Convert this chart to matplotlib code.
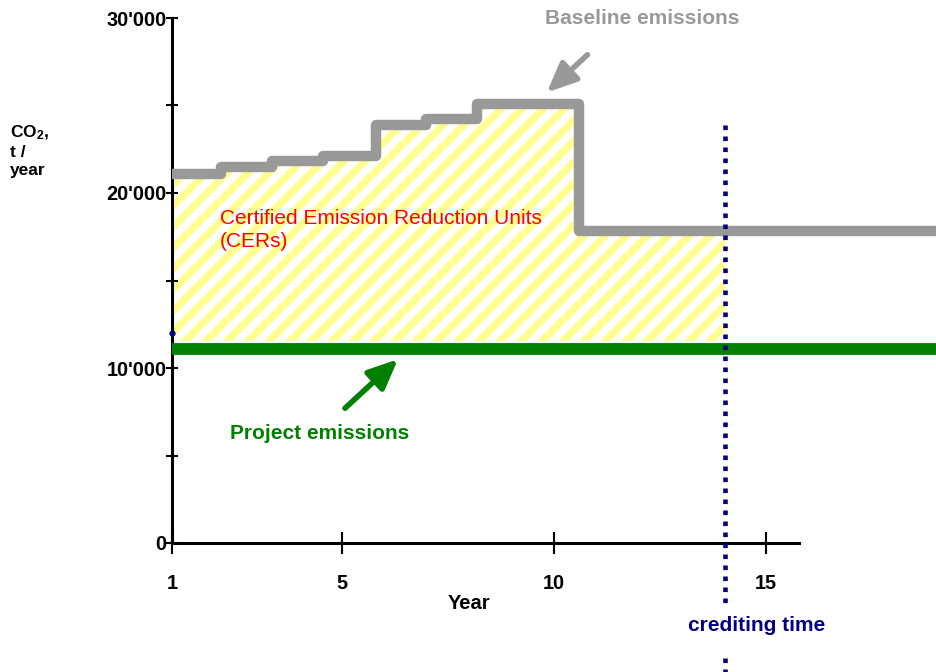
import matplotlib
matplotlib.use("Agg")
import matplotlib.pyplot as plt
from matplotlib.transforms import IdentityTransform

plt.rcParams["font.family"] = ["Liberation Sans", "DejaVu Sans"]
plt.rcParams["mathtext.fontset"] = "custom"
plt.rcParams["mathtext.default"] = "regular"

# baseline emissions, step levels (start year of each step)
baseline_years = [1, 2.15, 3.35, 4.55, 5.8, 7.0, 8.2, 10.6, 19.1]
baseline_values = [21100, 21500, 21800, 22100, 23900, 24200, 25100, 17800, 17800]

# project emissions (flat)
project_years = [1, 19.1]
project_values = [11100, 11100]

crediting_end = 14.05
cer_floor = 11550
marker_value = 12000

y_ticks = [0, 10000, 20000, 30000]
y_tick_labels = ["0", "10'000", "20'000", "30'000"]
y_minor = [5000, 15000, 25000]
x_ticks = [1, 5, 10, 15]
x_tick_labels = ["1", "5", "10", "15"]

GREY = "#999999"
GREEN = "#008000"
NAVY = "#000080"
STRIPE = "#ffff90"

fig = plt.figure(figsize=(9.36, 6.72), dpi=100)
ax = fig.add_axes([172 / 936, 1 - 543 / 672, (936 - 172) / 936, (543 - 18) / 672])
ax.set_xlim(1, 19.02)
ax.set_ylim(0, 30000)

# CER area between project line and baseline up to end of crediting time,
# filled with diagonal yellow stripes clipped to the area
fill_x = [x for x in baseline_years if x < crediting_end] + [crediting_end]
fill_y = baseline_values[:len(fill_x) - 1] + [baseline_values[len(fill_x) - 2]]
area = ax.fill_between(fill_x, cer_floor, fill_y, step="post",
                       facecolor="none", lw=0)
clip = area.get_paths()[0]
bx0, by0, bw, bh = ax.bbox.bounds
for c in range(int(-bh), int(bw), 21):
    stripe, = ax.plot([bx0 + c, bx0 + c + bh], [by0, by0 + bh], color=STRIPE,
                      lw=5.3, transform=IdentityTransform(), zorder=1)
    stripe.set_clip_path(clip, ax.transData)

ax.step(baseline_years, baseline_values, where="post", color=GREY, lw=7.5,
        solid_joinstyle="round", solid_capstyle="butt", clip_on=False, zorder=3)
ax.plot(project_years, project_values, color=GREEN, lw=8.5,
        solid_capstyle="butt", clip_on=False, zorder=3)

# crediting time marker (dotted, runs below the axis)
ax.plot([crediting_end, crediting_end], [23900, -3550], color=NAVY, lw=3.3,
        ls=(0, (1, 1.4)), clip_on=False, zorder=4)
ax.plot([crediting_end, crediting_end], [-6550, -7500], color=NAVY, lw=3.3,
        ls=(0, (1, 1.4)), clip_on=False, zorder=4)
ax.text(crediting_end + 0.75, -4700, "crediting time", color=NAVY, fontsize=15,
        fontweight="bold", ha="center", va="center", clip_on=False)

ax.plot([1], [marker_value], "o", color=NAVY, ms=3.5, clip_on=False, zorder=5)

# annotations
arrow_style = "-|>,head_length=1.8,head_width=0.8"
ax.text(12.1, 29950, "Baseline emissions", color=GREY, fontsize=15,
        fontweight="bold", ha="center", va="center", clip_on=False)
ax.annotate("", xy=(9.84, 25750), xytext=(10.8, 27900),
            arrowprops=dict(arrowstyle=arrow_style, color=GREY, lw=4,
                            shrinkA=0, shrinkB=0))
ax.text(4.49, 6250, "Project emissions", color=GREEN, fontsize=15,
        fontweight="bold", ha="center", va="center")
ax.annotate("", xy=(6.33, 10500), xytext=(5.08, 7700),
            arrowprops=dict(arrowstyle=arrow_style, color=GREEN, lw=4,
                            shrinkA=0, shrinkB=0))
ax.text(2.13, 19100, "Certified Emission Reduction Units\n(CERs)", color="red",
        fontsize=15, ha="left", va="top", linespacing=1.3)

# axes styling
for side in ("top", "right"):
    ax.spines[side].set_visible(False)
ax.spines["left"].set_linewidth(2.2)
ax.spines["bottom"].set_linewidth(2.2)
ax.spines["left"].set_bounds(0, 30000)
ax.spines["bottom"].set_bounds(1, 15.8)

ax.set_yticks(y_ticks)
ax.set_yticklabels(y_tick_labels, fontweight="bold", fontsize=14.3)
ax.set_yticks(y_minor, minor=True)
ax.tick_params(axis="y", which="both", direction="inout", length=8, width=1.5, pad=0)
ax.set_xticks(x_ticks)
ax.set_xticklabels(x_tick_labels, fontweight="bold", fontsize=14.3)
ax.tick_params(axis="x", direction="inout", length=16, width=1.5, pad=14)

ax.text(8.0, -3450, "Year", fontsize=14.5, fontweight="bold", ha="center", va="center")
fig.text(10 / 936, 1 - 124 / 672, "CO$_2$,\nt /\nyear", fontsize=12.5,
         fontweight="bold", ha="left", va="top", linespacing=1.22)

fig.savefig("out.png", dpi=100)
